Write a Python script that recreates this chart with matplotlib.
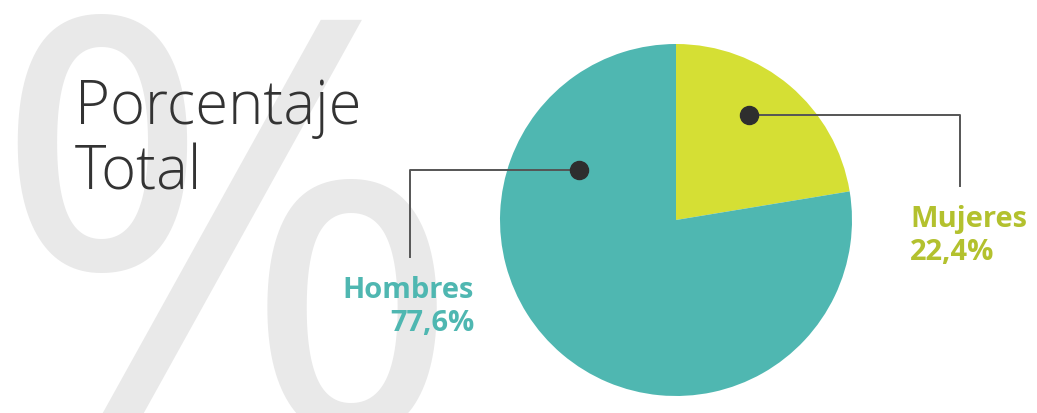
import matplotlib.pyplot as plt

categorias = ['Mujeres', 'Hombres']
porcentajes = [22.4, 77.6]
colores = ['#d5df34', '#4fb7b1']
colores_texto = ['#b3c12e', '#4fb7b1']
titulo = 'Porcentaje\nTotal'

W, H = 1037, 414
fig = plt.figure(figsize=(W / 100, H / 100), dpi=100)
ax = fig.add_axes([0, 0, 1, 1])

# fondo: signo de porcentaje gigante
ax.text(-12, -17, '%', fontsize=415, family='Open Sans', fontweight='normal',
        color='#e9e9e9', ha='left', va='baseline', zorder=0)

ax.text(75, H - 190, titulo, fontsize=43, family='Open Sans', fontweight='light',
        color='#333333', ha='left', va='baseline', linespacing=1.1, zorder=2)

cx, cy, r = 676, H - 221, 176
ax.pie(porcentajes, colors=colores, startangle=90, counterclock=False,
       center=(cx, cy), radius=r, frame=True,
       wedgeprops=dict(linewidth=0, zorder=1))
ax.set_xlim(0, W)
ax.set_ylim(0, H)
ax.set_aspect('equal')
ax.axis('off')

def etiqueta(i, punto, codo, fin, txt_xy, ha):
    ax.plot([punto[0], codo[0], fin[0]], [punto[1], codo[1], fin[1]],
            color='#555555', lw=1.4, zorder=3)
    ax.plot(*punto, 'o', ms=13, color='#2e2e2e', zorder=4)
    txt = f'{categorias[i]}\n{porcentajes[i]:.1f}%'.replace('.', ',')
    ax.text(*txt_xy, txt, fontsize=21, family='Open Sans', fontweight='bold',
            color=colores_texto[i], ha=ha, va='top', linespacing=1.2, zorder=3)

etiqueta(0, (749, H - 116), (960, H - 116), (960, H - 187), (910, H - 205), 'left')
etiqueta(1, (579, H - 171), (410, H - 171), (410, H - 258), (474, H - 276), 'right')

fig.savefig('out.png', dpi=100, facecolor='white')
